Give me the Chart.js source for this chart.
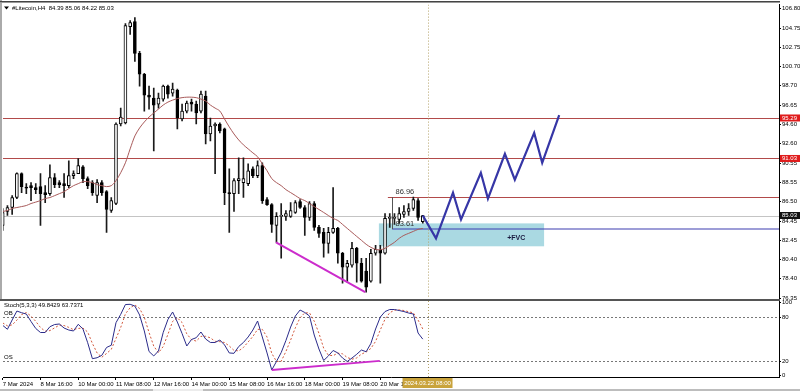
<!DOCTYPE html>
<html><head><meta charset="utf-8">
<script src="https://cdn.jsdelivr.net/npm/chart.js@4.4.1/dist/chart.umd.min.js"></script>
<style>
html,body{margin:0;padding:0;background:#fff;}
#wrap{position:relative;width:800px;height:391px;overflow:hidden;background:#fff;}
canvas{position:absolute;left:0;top:0;}
</style></head><body>
<div id="wrap"><canvas id="main" width="800" height="391"></canvas><canvas id="stoch" width="800" height="391"></canvas></div>
<script>
// ---- data ----
const xTickIdx = [0,8,16,24,32,40,48,56,64,72,80];
const xTickLabels = ['7 Mar 2024','8 Mar 16:00','10 Mar 00:00','11 Mar 08:00','12 Mar 16:00','14 Mar 00:00','15 Mar 08:00','16 Mar 16:00','18 Mar 00:00','19 Mar 08:00','20 Mar 16:00'];
const priceTicks = [106.80,104.75,102.75,100.70,98.70,96.65,94.60,92.60,90.55,88.55,86.50,84.45,82.45,80.40,78.40,76.35];
const stochTicks = [100,80,20,0];

const open = [83.99,85.45,85.87,86.92,89.43,87.96,88.17,87.96,88.07,87.44,
87.33,89.01,88.49,88.38,88.17,89.22,89.43,90.16,88.91,88.49,
87.13,88.49,87.54,85.56,86.29,94.66,94.77,104.91,105.44,102.09,
99.89,97.69,97.38,96.75,97.28,98.64,97.90,98.22,95.18,96.02,
96.96,96.75,96.02,97.59,93.61,94.45,94.66,94.14,87.44,87.33,
88.70,88.49,88.38,89.95,89.22,90.27,86.71,86.18,83.99,84.93,
84.93,84.93,85.35,86.50,85.87,84.82,86.29,83.78,83.25,82.10,
83.25,83.67,81.06,79.59,79.80,81.58,80.01,79.17,78.13,81.06,
81.37,81.06,84.72,84.72,84.61,85.14,85.45,85.77,86.60,84.39];
const high = [85.76,86.08,87.13,89.53,89.53,88.38,88.49,88.38,89.43,88.17,
90.37,89.43,88.70,89.43,90.79,89.74,91.01,90.27,89.11,88.70,
88.80,88.70,87.65,86.92,94.77,96.33,105.23,105.54,105.86,102.30,
99.99,98.64,98.43,97.90,98.74,98.74,98.95,98.32,96.75,97.07,
97.28,97.07,98.11,98.11,95.29,94.77,94.77,94.24,89.95,88.91,
91.10,91.10,90.47,90.16,90.79,90.58,86.92,86.29,85.35,86.29,
85.56,86.39,86.60,86.71,86.08,86.50,86.50,83.99,83.67,83.78,
87.96,83.78,81.16,80.32,82.21,81.68,80.53,80.53,81.47,81.89,
81.89,85.24,85.24,85.24,85.87,86.08,86.29,86.96,86.81,85.06];
const low = [83.46,85.03,85.14,86.81,87.44,87.33,86.60,87.33,83.99,86.39,
87.13,87.96,87.96,86.92,87.96,88.91,89.43,88.49,87.86,87.13,
86.39,87.13,83.25,85.35,86.18,94.45,94.66,104.08,101.25,98.64,
96.02,96.23,91.83,96.33,97.07,97.38,97.59,94.14,94.97,95.81,
96.02,94.66,95.81,92.57,92.88,89.43,93.72,86.18,83.25,85.45,
87.33,86.92,88.17,89.01,89.01,86.29,86.08,83.25,82.21,80.53,
84.51,84.82,85.24,85.77,82.94,84.51,83.46,82.73,80.64,81.06,
83.15,80.01,77.92,78.02,79.59,78.02,78.02,76.97,78.02,80.85,
77.92,80.95,83.78,84.09,84.19,84.82,85.03,85.56,84.51,84.22];
const close = [85.35,85.87,86.92,89.43,88.07,87.91,87.96,87.75,87.33,87.23,
89.01,88.28,88.28,88.17,89.22,89.43,90.27,88.91,88.17,87.44,
88.49,87.44,85.66,86.60,94.66,95.39,105.02,105.33,102.09,99.89,
97.69,97.48,96.65,97.38,98.64,97.80,98.32,95.29,96.02,96.86,
96.75,95.81,97.80,93.61,94.45,94.66,93.93,87.44,87.33,88.70,
88.91,88.91,89.74,89.22,90.27,86.60,86.18,84.09,84.93,84.98,
85.24,85.56,86.39,85.87,84.82,86.29,83.78,83.15,82.10,83.25,
83.67,81.06,79.59,80.01,81.58,80.01,78.13,77.50,81.06,81.47,
81.06,84.72,84.77,84.82,85.24,85.45,85.77,86.71,84.82,85.03];
const ma = [85.45,85.56,85.77,85.87,85.97,86.08,86.29,86.44,86.60,86.81,
86.92,87.12,87.33,87.54,87.86,88.17,88.38,88.59,88.59,88.49,
88.28,88.17,88.07,88.17,88.70,89.53,90.58,92.04,93.40,94.24,
94.87,95.39,95.81,96.23,96.65,96.96,97.17,97.33,97.43,97.48,
97.48,97.43,97.28,97.07,96.65,96.33,96.02,95.18,94.35,93.61,
92.98,92.46,92.04,91.62,91.21,90.47,89.74,88.91,88.49,88.17,
87.75,87.44,87.13,86.81,86.60,86.29,85.97,85.66,85.35,85.03,
84.72,84.51,84.09,83.67,83.25,82.83,82.42,82.00,81.68,81.47,
81.42,81.58,81.89,82.21,82.63,82.94,83.15,83.36,83.57,83.67];
const stochK = [68.7,63.3,76.0,88.2,85.9,84.1,73.9,64.4,58.9,58.9,
66.8,69.8,70.5,65.0,62.3,61.0,70.1,63.7,45.0,23.2,
24.5,27.8,38.5,41.5,72.3,83.7,97.1,97.4,95.0,82.8,
61.0,33.0,26.9,33.7,58.9,76.6,86.9,73.2,57.5,40.5,
49.4,51.8,59.6,50.0,45.3,45.3,48.7,41.9,31.0,30.5,
39.8,45.3,52.8,62.3,74.6,52.8,31.0,7.8,19.4,31.6,
48.0,66.4,81.4,89.6,86.2,81.4,55.5,36.4,20.7,26.9,
34.4,31.0,24.1,19.4,24.1,29.2,35.0,32.7,43.9,63.7,
80.0,87.5,90.3,90.3,88.9,87.5,85.5,84.1,58.2,49.84];
const stochD = [72.0,68.0,69.3,75.8,83.4,86.1,81.3,74.1,65.7,60.7,
61.5,65.2,69.0,68.4,65.9,62.8,64.5,64.9,59.6,44.0,
30.9,25.2,30.3,35.9,50.8,65.8,84.4,92.7,96.5,91.7,
79.6,58.9,40.3,31.2,39.8,56.4,74.1,78.9,72.5,57.1,
49.1,47.2,53.6,53.8,51.6,46.9,46.4,45.3,40.5,34.5,
33.8,38.5,46.0,53.5,63.2,63.2,52.8,30.5,19.4,19.6,
33.0,48.7,65.3,79.1,85.7,85.7,74.4,57.8,37.5,28.0,
27.3,30.8,29.8,24.8,22.5,24.2,29.4,32.3,37.2,46.8,
62.5,77.1,85.9,89.4,89.8,88.9,87.3,85.7,75.9,63.74];

// drawn objects (bar index, price)
const zigIdx = [89.0,91.8,95.4,97.1,101.3,102.8,106.4,108.5,112.6,114.3,117.9];
const zigPrice = [85.03,82.62,87.44,84.61,89.53,86.81,91.52,88.80,93.72,90.58,95.60];
const divIdx = [57.9,76.8];
const divPrice = [82.21,76.97];
const stochDivIdx = [57.0,79.9];
const stochDivVal = [7.8,20.2];
const redLevels = [95.29,91.03];
const resLevel = 86.96, supLevel = 83.61, bidLevel = 85.03, levelStartIdx = 81.6;
const fvcIdx = [79.7,114.7], fvcPrice = [84.20,81.79];
const crossIdx = 90;
const xMin = 0.06, xMax = 164.47;

const FONT = '"Liberation Sans", Arial, sans-serif';
Chart.defaults.font.family = FONT;
Chart.defaults.font.size = 6;
Chart.defaults.color = '#000';

const idx = open.map((_, i) => i);
const wickData = idx.map(i => ({x: i, y: [low[i], high[i]]}));
const bodyData = idx.map(i => ({x: i, y: [Math.min(open[i], close[i]), Math.max(open[i], close[i])]}));
const bull = idx.map(i => close[i] >= open[i]);

function hline(ctx, x1, x2, y, color, w) {
  ctx.save(); ctx.strokeStyle = color; ctx.lineWidth = w || 1;
  ctx.beginPath(); ctx.moveTo(x1, y); ctx.lineTo(x2, y); ctx.stroke(); ctx.restore();
}

const mainPlugin = {
  id: 'mainDeco',
  beforeDatasetsDraw(chart) {
    const {ctx, chartArea: a, scales: {x, y}} = chart;
    ctx.save();
    ctx.beginPath(); ctx.rect(a.left, a.top, a.right - a.left, a.bottom - a.top); ctx.clip();
    // FVC box
    const bx1 = x.getPixelForValue(fvcIdx[0]), bx2 = x.getPixelForValue(fvcIdx[1]);
    const by1 = y.getPixelForValue(fvcPrice[0]), by2 = y.getPixelForValue(fvcPrice[1]);
    ctx.fillStyle = '#aad9e2';
    ctx.fillRect(bx1, by1, bx2 - bx1, by2 - by1);
    // bid line
    hline(ctx, a.left, a.right, Math.round(y.getPixelForValue(bidLevel)) + 0.5, '#c4c4c4', 1);
    // red levels
    redLevels.forEach(p => hline(ctx, a.left, a.right, Math.round(y.getPixelForValue(p)) + 0.5, '#b24a4a', 1));
    const ls = x.getPixelForValue(levelStartIdx);
    hline(ctx, ls, a.right, Math.round(y.getPixelForValue(resLevel)) + 0.5, '#b24a4a', 1);
    // support line
    hline(ctx, x.getPixelForValue(levelStartIdx + 0.9), a.right, y.getPixelForValue(supLevel), 'rgba(60,60,175,0.5)', 2);
    // bracket
    ctx.strokeStyle = '#555'; ctx.lineWidth = 1;
    const bxp = Math.round(x.getPixelForValue(levelStartIdx + 0.9)) + 0.5;
    ctx.beginPath(); ctx.moveTo(bxp, y.getPixelForValue(resLevel)); ctx.lineTo(bxp, y.getPixelForValue(supLevel)); ctx.stroke();
    // crosshair
    ctx.strokeStyle = '#b5a36a'; ctx.setLineDash([1, 2]);
    const cx = Math.round(x.getPixelForValue(crossIdx)) + 0.5;
    ctx.beginPath(); ctx.moveTo(cx, a.top); ctx.lineTo(cx, a.bottom); ctx.stroke();
    ctx.restore();
  },
  afterDraw(chart) {
    const {ctx, chartArea: a, scales: {x, y}} = chart;
    ctx.save();
    // frames
    ctx.fillStyle = '#aaaaaa'; ctx.fillRect(0, 0, 2, 299);
    ctx.fillStyle = '#444'; ctx.fillRect(0, 1, 780, 1);
    ctx.fillStyle = '#999'; ctx.fillRect(0, 2, 780, 1);
    // level texts
    ctx.fillStyle = '#333'; ctx.textBaseline = 'middle'; ctx.textAlign = 'center';
    ctx.font = '7.5px ' + FONT;
    ctx.fillText(resLevel.toFixed(2), x.getPixelForValue(85.2), y.getPixelForValue(87.54));
    ctx.fillText(supLevel.toFixed(2), x.getPixelForValue(85.2), y.getPixelForValue(84.14));
    ctx.font = 'bold 7px ' + FONT; ctx.fillStyle = '#1a1a40';
    ctx.fillText('+FVC', x.getPixelForValue(108.8), y.getPixelForValue(82.63));
    // title
    ctx.textAlign = 'left'; ctx.fillStyle = '#000'; ctx.font = '6px ' + FONT;
    ctx.fillText('#Litecoin,H4  84.39 85.06 84.22 85.03', 12, 8);
    ctx.beginPath(); ctx.moveTo(4, 6.5); ctx.lineTo(9, 6.5); ctx.lineTo(6.5, 9.5); ctx.closePath(); ctx.fill();
    // price tags
    const tag = (p, bg) => {
      const py = y.getPixelForValue(p);
      ctx.fillStyle = bg; ctx.fillRect(780, py - 3.5, 20, 7);
      ctx.fillStyle = '#fff'; ctx.font = '6px ' + FONT; ctx.textAlign = 'left';
      ctx.fillText(p.toFixed(2), 782, py + 0.3);
    };
    tag(redLevels[0], '#e01c1c');
    tag(redLevels[1], '#e01c1c');
    tag(bidLevel, '#111');
    // separator
    ctx.fillStyle = '#555'; ctx.fillRect(0, 299, 780, 2);
    ctx.restore();
  }
};

new Chart(document.getElementById('main'), {
  type: 'bar',
  data: { datasets: [
    {type: 'line', data: zigIdx.map((v, i) => ({x: v, y: zigPrice[i]})), borderColor: '#3636a6', borderWidth: 2.2, pointRadius: 0, tension: 0, order: 0},
    {type: 'line', data: divIdx.map((v, i) => ({x: v, y: divPrice[i]})), borderColor: '#cc2ccc', borderWidth: 2, pointRadius: 0, order: 1},
    {type: 'line', data: idx.map(i => ({x: i, y: ma[i]})), borderColor: '#a85a5a', borderWidth: 1, pointRadius: 0, tension: 0.3, order: 2},
    {type: 'bar', data: bodyData, backgroundColor: bull.map(b => b ? '#fff' : '#000'), borderColor: '#000', borderWidth: 1, borderSkipped: false, barThickness: 3, minBarLength: 1, grouped: false, order: 3},
    {type: 'bar', data: wickData, backgroundColor: '#1a1a1a', borderWidth: 0, barThickness: 1, grouped: false, order: 4}
  ]},
  options: {
    responsive: false, animation: false, devicePixelRatio: 1,
    layout: {padding: {left: 3, top: 3, bottom: 93, right: 0}},
    plugins: {legend: {display: false}, tooltip: {enabled: false}},
    scales: {
      x: {type: 'linear', min: xMin, max: xMax, offset: false, display: false},
      y: {type: 'linear', position: 'right', min: 76.35, max: 107.22,
        afterFit: s => { s.width = 21; },
        afterBuildTicks: s => { s.ticks = priceTicks.map(v => ({value: v})); },
        ticks: {callback: v => Number(v).toFixed(2), font: {size: 6}, color: '#000', padding: 1, autoSkip: false},
        grid: {drawOnChartArea: false, drawTicks: true, tickLength: 2, color: '#000'},
        border: {display: true, color: '#000'}
      }
    }
  },
  plugins: [mainPlugin]
});

const stochPlugin = {
  id: 'stochDeco',
  beforeDatasetsDraw(chart) {
    const {ctx, chartArea: a, scales: {x, y}} = chart;
    ctx.save();
    ctx.strokeStyle = '#777'; ctx.lineWidth = 1; ctx.setLineDash([2, 2]);
    [80, 20].forEach(v => {
      const py = Math.round(y.getPixelForValue(v)) + 0.5;
      ctx.beginPath(); ctx.moveTo(a.left, py); ctx.lineTo(a.right, py); ctx.stroke();
    });
    ctx.strokeStyle = '#b5a36a'; ctx.setLineDash([1, 2]);
    const cx = Math.round(x.getPixelForValue(crossIdx)) + 0.5;
    ctx.beginPath(); ctx.moveTo(cx, a.top); ctx.lineTo(cx, a.bottom); ctx.stroke();
    ctx.restore();
  },
  afterDraw(chart) {
    const {ctx, chartArea: a, scales: {x, y}} = chart;
    ctx.save();
    ctx.fillStyle = '#000'; ctx.font = '6px ' + FONT; ctx.textBaseline = 'middle'; ctx.textAlign = 'left';
    ctx.fillText('Stoch(5,3,3) 49.8429 63.7371', 4, 305);
    ctx.fillText('OB', 4, 313.5);
    ctx.fillText('OS', 4, 357.5);
    // crosshair time tag
    const cx = x.getPixelForValue(crossIdx);
    ctx.fillStyle = '#c9a33c'; ctx.fillRect(cx - 25, a.bottom + 1, 50, 10);
    ctx.fillStyle = '#fff'; ctx.textAlign = 'center';
    ctx.fillText('2024.03.22 08:00', cx, a.bottom + 6.3);
    // bottom edge
    ctx.fillStyle = '#bdbdbd'; ctx.fillRect(0, 389, 800, 2);
    ctx.fillStyle = '#ececec'; ctx.fillRect(153, 389, 50, 2);
    ctx.restore();
  }
};

new Chart(document.getElementById('stoch'), {
  type: 'line',
  data: { datasets: [
    {data: stochDivIdx.map((v, i) => ({x: v, y: stochDivVal[i]})), borderColor: '#cc2ccc', borderWidth: 2, pointRadius: 0, order: 0},
    {data: idx.map(i => ({x: i, y: stochK[i]})), borderColor: '#2b2b8a', borderWidth: 1, pointRadius: 0, order: 1},
    {data: idx.map(i => ({x: i, y: stochD[i]})), borderColor: '#d2583c', borderWidth: 1, borderDash: [2, 2], pointRadius: 0, order: 2}
  ]},
  options: {
    responsive: false, animation: false, devicePixelRatio: 1,
    layout: {padding: {left: 3, top: 301, bottom: 0, right: 0}},
    plugins: {legend: {display: false}, tooltip: {enabled: false}},
    scales: {
      x: {type: 'linear', min: xMin, max: xMax, offset: false,
        afterFit: s => { s.height = 14; },
        afterBuildTicks: s => { s.ticks = xTickIdx.map(v => ({value: v})); },
        ticks: {callback: (v, i) => xTickLabels[i], align: 'start', maxRotation: 0, minRotation: 0, autoSkip: false, font: {size: 6}, color: '#000', padding: 1},
        grid: {drawOnChartArea: false, drawTicks: true, tickLength: 3, color: '#000'},
        border: {display: true, color: '#000'}
      },
      y: {type: 'linear', position: 'right', min: -1.8, max: 101.9,
        afterFit: s => { s.width = 21; },
        afterBuildTicks: s => { s.ticks = stochTicks.map(v => ({value: v})); },
        ticks: {font: {size: 6}, color: '#000', padding: 1, autoSkip: false},
        grid: {drawOnChartArea: false, drawTicks: true, tickLength: 2, color: '#000'},
        border: {display: true, color: '#000'}
      }
    }
  },
  plugins: [stochPlugin]
});
</script>
</body></html>
